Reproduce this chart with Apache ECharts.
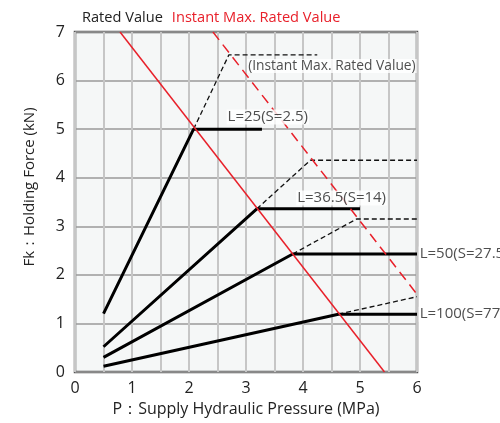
<!DOCTYPE html>
<html><head><meta charset="utf-8">
<script src="https://cdn.jsdelivr.net/npm/echarts@6/dist/echarts.min.js"></script>
<style>html,body{margin:0;padding:0;background:#fff}#c{width:500px;height:423px}</style>
</head><body><div id="c"></div>
<script>
// Data (P in MPa, Fk in kN)
const ratedLine = [[0.79, 7], [5.43, 0]];
const instantLine = [[2.42, 7], [6, 1.6]];
const L25Solid = [[0.5, 1.2], [2.08, 5], [3.28, 5]];
const L25Dashed = [[2.08, 5], [2.70, 6.53], [4.25, 6.53]];
const L365Solid = [[0.5, 0.52], [3.19, 3.36], [5.0, 3.36]];
const L365Dashed = [[3.19, 3.36], [4.13, 4.36], [6, 4.36]];
const L50Solid = [[0.5, 0.30], [3.82, 2.43], [6, 2.43]];
const L50Dashed = [[3.82, 2.43], [4.94, 3.15], [6, 3.15]];
const L100Solid = [[0.5, 0.12], [4.62, 1.19], [6, 1.19]];
const L100Dashed = [[4.62, 1.19], [6, 1.55]];
const curveLabels = [
  [2.66, 5.25, 'L=25(S=2.5)'],
  [3.02, 6.30, '(Instant Max. Rated Value)'],
  [3.88, 3.58, 'L=36.5(S=14)'],
  [6.03, 2.43, 'L=50(S=27.5)'],
  [6.03, 1.19, 'L=100(S=77)']
];
const xTicks = [0, 1, 2, 3, 4, 5, 6];
const yTicks = [0, 1, 2, 3, 4, 5, 6, 7];

const FONT = 'Open Sans';
const RED = '#e8202a';
const chart = echarts.init(document.getElementById('c'));
function solid(d){return {type:'line',data:d,symbol:'none',lineStyle:{color:'#000',width:3},z:5,animation:false};}
function dashed(d){return {type:'line',data:d,symbol:'none',lineStyle:{color:'#111',width:1.3,type:[5,3]},z:4,animation:false};}
const labelData = curveLabels.map(v => v[2].charAt(0) === '(' ? {value:v, label:{fontSize:13.8}} : {value:v});
chart.setOption({
  animation:false,
  textStyle:{fontFamily:FONT},
  legend:{
    left:72, top:5, itemWidth:0, itemGap:4, selectedMode:false,
    textStyle:{fontFamily:FONT,fontSize:14.6},
    data:[
      {name:'Rated Value',icon:'none',textStyle:{color:'#222'}},
      {name:'Instant Max. Rated Value',icon:'none',textStyle:{color:RED}}
    ]
  },
  grid:{left:75,right:83,top:32,bottom:51,show:true,backgroundColor:'#f5f7f7',borderColor:'#555',borderWidth:2.5,z:0},
  xAxis:{
    type:'value',min:0,max:6,interval:1,
    axisLine:{show:false},axisTick:{show:false},
    axisLabel:{fontSize:16,color:'#222',margin:8,fontFamily:FONT},
    splitLine:{show:true,lineStyle:{color:'#c6c6c6',width:2}},
    minorTick:{show:false,splitNumber:2},
    minorSplitLine:{show:true,lineStyle:{color:'#c6c6c6',width:2}},
    name:'P：Supply Hydraulic Pressure (MPa)',nameLocation:'middle',nameGap:29,
    nameTextStyle:{fontSize:16,color:'#222',fontFamily:FONT}
  },
  yAxis:{
    type:'value',min:0,max:7,interval:1,
    axisLine:{show:false},axisTick:{show:false},
    axisLabel:{fontSize:16,color:'#222',margin:10,fontFamily:FONT},
    splitLine:{show:true,lineStyle:{color:'#9a9a9a',width:1.5}},
    name:'Fk：Holding Force (kN)',nameLocation:'middle',nameGap:38,
    nameTextStyle:{fontSize:15,color:'#222',fontFamily:FONT,padding:[0,0,0,30]}
  },
  series:[
    {name:'Rated Value',type:'line',data:ratedLine,symbol:'none',lineStyle:{color:RED,width:1.5},z:6},
    {name:'Instant Max. Rated Value',type:'line',data:instantLine,symbol:'none',lineStyle:{color:RED,width:1.5,type:[10,6]},z:6},
    dashed(L25Dashed), solid(L25Solid),
    dashed(L365Dashed), solid(L365Solid),
    dashed(L50Dashed), solid(L50Solid),
    dashed(L100Dashed), solid(L100Solid),
    {type:'scatter',data:labelData,symbolSize:0,z:10,clip:false,
     label:{show:true,position:'right',distance:0,formatter:p=>p.value[2],
       fontSize:15,color:'#222',fontFamily:FONT,backgroundColor:'#fff',padding:[0,1]}}
  ]
});
</script></body></html>
